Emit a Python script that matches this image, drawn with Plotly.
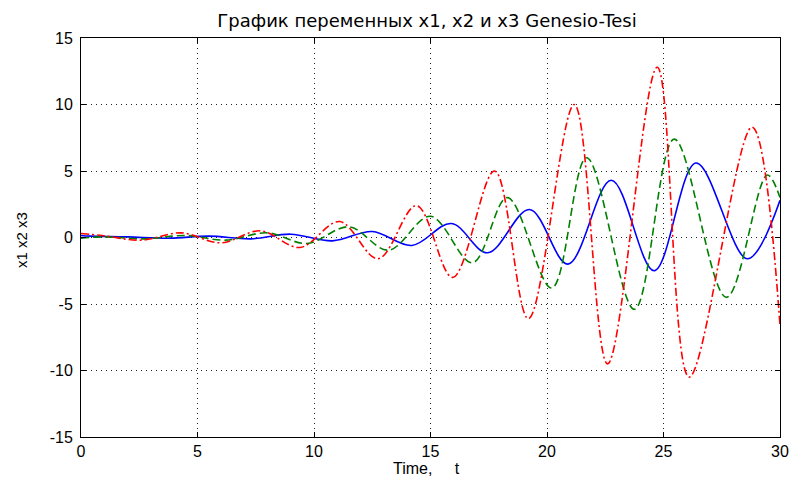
import plotly.graph_objects as go

# Genesio-Tesi state variables: turning points (time, value) of each trace
t_x1 = [0.0, 0.4, 2.0, 3.8, 5.5, 7.3, 9.0, 10.8, 12.5, 14.2, 15.9, 17.45, 19.25,
        20.9, 22.76, 24.6, 26.4, 28.6, 30.0]
x1 = [0.15, 0.1, 0.05, -0.05, 0.1, -0.1, 0.25, -0.25, 0.45, -0.6, 1.05, -1.15, 2.1,
      -2.0, 4.3, -2.5, 5.6, -1.6, 2.8]

t_x2 = [0.0, 1.0, 2.7, 4.5, 6.2, 8.0, 9.7, 11.5, 13.2, 15.0, 16.8, 18.3, 20.2,
        21.7, 23.75, 25.46, 27.7, 29.45, 30.0]
x2 = [-0.05, 0.05, -0.1, 0.15, -0.2, 0.35, -0.45, 0.8, -0.95, 1.6, -1.9, 3.0, -3.8,
      6.0, -5.4, 7.4, -4.5, 4.7, 3.0]

t_x3 = [0.0, 0.9, 2.6, 4.3, 6.0, 7.7, 9.4, 11.1, 12.75, 14.4, 15.95, 17.75, 19.2,
        21.17, 22.6, 24.73, 26.1, 28.8, 30.0]
x3 = [0.3, 0.15, -0.2, 0.35, -0.4, 0.5, -0.75, 1.2, -1.6, 2.4, -3.0, 5.0, -6.1,
      10.0, -9.5, 12.8, -10.5, 8.3, -6.6]

x_ticks = [0, 5, 10, 15, 20, 25, 30]
y_ticks = [-15, -10, -5, 0, 5, 10, 15]
y_tick_text = [str(v) for v in y_ticks]  # plain hyphen minus signs

FONT = "Liberation Sans, Arial, sans-serif"
TITLE_FONT = "DejaVu Sans, sans-serif"

W, H = 792, 477
L, R, T, B = 81, 12, 38, 40
PW, PH = W - L - R, H - T - B

fig = go.Figure()
fig.add_trace(go.Scatter(x=t_x1, y=x1, mode="lines", name="x1",
                         line=dict(color="#0000ff", width=1.6, shape="spline", smoothing=1.0)))
fig.add_trace(go.Scatter(x=t_x2, y=x2, mode="lines", name="x2",
                         line=dict(color="#008000", width=1.6, dash="8px,4px",
                                   shape="spline", smoothing=1.0)))
fig.add_trace(go.Scatter(x=t_x3, y=x3, mode="lines", name="x3",
                         line=dict(color="#ff0000", width=1.6, dash="8px,3px,2px,3px",
                                   shape="spline", smoothing=1.0)))

axis_common = dict(
    showline=True, linecolor="black", linewidth=1, mirror="ticks",
    ticks="inside", ticklen=5, tickcolor="black",
    showgrid=True, gridcolor="#222", gridwidth=1, griddash="1px,4px",
    zeroline=False, automargin=False,
    tickfont=dict(size=16, color="black", family=FONT),
)

fig.update_layout(
    width=W, height=H,
    margin=dict(l=L, r=R, t=T, b=B),
    paper_bgcolor="white", plot_bgcolor="white",
    showlegend=False,
    font=dict(family=FONT, color="black", size=15),
    title=dict(text="График переменных x1, x2 и x3 Genesio-Tesi",
               x=427 / W, xref="container", xanchor="center",
               y=1 - 21 / H, yref="container", yanchor="middle",
               font=dict(size=18, family=TITLE_FONT, color="black")),
    xaxis=dict(range=[0, 30], tickvals=x_ticks, ticklabelstandoff=0, **axis_common),
    yaxis=dict(range=[-15, 15], tickvals=y_ticks, ticktext=y_tick_text,
               ticklabelstandoff=4, **axis_common),
    annotations=[
        dict(text="Time,\u00a0\u00a0\u00a0\u00a0\u00a0t", xref="paper", yref="paper",
             x=(426 - L) / PW, y=-(468 - (T + PH)) / PH, xanchor="center", yanchor="middle",
             showarrow=False, font=dict(size=16, family=FONT, color="black")),
        dict(text="x1 x2 x3", xref="paper", yref="paper", textangle=-90,
             x=(21 - L) / PW, y=(T + PH - 240) / PH, xanchor="center", yanchor="middle",
             showarrow=False, font=dict(size=15, family=FONT, color="black")),
    ],
)

fig.write_html("out.html")
